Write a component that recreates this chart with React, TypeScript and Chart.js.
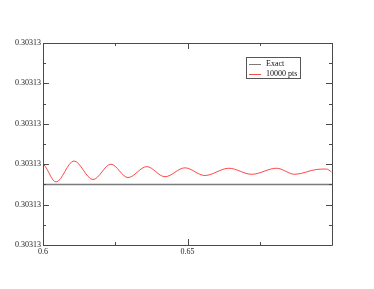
import React, { useEffect, useRef } from "react";
import { Chart, registerables } from "chart.js";

Chart.register(...registerables);

const xRange = [0.6, 0.7];
const xMajorTicks = [0.6, 0.65, 0.7];
const xMinorTicks = [0.625, 0.675];
const xTickLabels = ["0.6", "0.65", ""];
const yRange = [0, 5];
const yMajorTicks = [0, 1, 2, 3, 4, 5];
const yMinorTicks = [0.5, 1.5, 2.5, 3.5, 4.5];
const yTickLabel = "0.30313";

const exactX = [0.6, 0.7];
const exactY = [1.5, 1.5];

const sampleX = [
  0.6, 0.6004, 0.6045, 0.6107, 0.6173, 0.6235, 0.6294, 0.6359, 0.6422, 0.6491,
  0.656, 0.6643, 0.6722, 0.6808, 0.6871, 0.6947, 0.6981, 0.6998,
];
const sampleY = [
  2.0, 1.98, 1.56, 2.08, 1.62, 2.0, 1.67, 1.94, 1.69, 1.91,
  1.72, 1.9, 1.75, 1.9, 1.75, 1.87, 1.88, 1.81,
];

const seriesLabels = ["Exact", "10000 pts"];
const seriesColors = ["#7a7a7a", "rgba(255,40,40,0.85)"];

const FONT = "'Liberation Serif', 'Times New Roman', serif";

const framePlugin = {
  id: "frame",
  afterDraw(chart: any) {
    const ctx = chart.ctx;
    const { left, right, top, bottom } = chart.chartArea;
    const xs = chart.scales.x;
    const ys = chart.scales.y;
    ctx.save();
    ctx.strokeStyle = "#4a4a4a";
    ctx.lineWidth = 1;
    ctx.beginPath();
    ctx.rect(Math.round(left) + 0.5, Math.round(top) + 0.5, Math.round(right - left), Math.round(bottom - top));
    ctx.stroke();
    const tick = (v: number, len: number, axis: "x" | "y") => {
      if (axis === "x") {
        const p = Math.round(xs.getPixelForValue(v)) + 0.5;
        ctx.moveTo(p, bottom);
        ctx.lineTo(p, bottom - len);
        ctx.moveTo(p, top);
        ctx.lineTo(p, top + len);
      } else {
        const p = Math.round(ys.getPixelForValue(v)) + 0.5;
        ctx.moveTo(left, p);
        ctx.lineTo(left + len, p);
        ctx.moveTo(right, p);
        ctx.lineTo(right - len, p);
      }
    };
    ctx.beginPath();
    xMajorTicks.forEach((v) => tick(v, 6, "x"));
    xMinorTicks.forEach((v) => tick(v, 3, "x"));
    yMajorTicks.forEach((v) => tick(v, 6, "y"));
    yMinorTicks.forEach((v) => tick(v, 3, "y"));
    ctx.stroke();

    // legend
    const bx = 246, by = 57, bw = 54, bh = 21;
    ctx.fillStyle = "#fff";
    ctx.fillRect(bx, by, bw, bh);
    ctx.strokeStyle = "#555";
    ctx.strokeRect(bx + 0.5, by + 0.5, bw, bh);
    ctx.font = `8px ${FONT}`;
    ctx.textBaseline = "middle";
    chart.data.datasets.forEach((ds: any, i: number) => {
      const y = by + 6.5 + i * 10;
      ctx.strokeStyle = ds.borderColor;
      ctx.lineWidth = 1;
      ctx.beginPath();
      ctx.moveTo(bx + 3, Math.round(y) + 0.5);
      ctx.lineTo(bx + 15, Math.round(y) + 0.5);
      ctx.stroke();
      ctx.fillStyle = "#111";
      ctx.fillText(ds.label, bx + 20, y);
    });
    ctx.restore();
  },
};

export default function App() {
  const ref = useRef<HTMLCanvasElement>(null);
  useEffect(() => {
    document.body.style.margin = "0";
    const chart = new Chart(ref.current!, {
      type: "line",
      data: {
        datasets: [
          {
            label: seriesLabels[0],
            data: exactX.map((x, i) => ({ x, y: exactY[i] })),
            borderColor: seriesColors[0],
            borderWidth: 1.5,
            pointRadius: 0,
          },
          {
            label: seriesLabels[1],
            data: sampleX.map((x, i) => ({ x, y: sampleY[i] })),
            borderColor: seriesColors[1],
            borderWidth: 1,
            pointRadius: 0,
            cubicInterpolationMode: "monotone",
          },
        ],
      },
      options: {
        responsive: false,
        animation: false,
        devicePixelRatio: 1,
        layout: { padding: { left: 0, top: 43, right: 42, bottom: 0 } },
        plugins: { legend: { display: false }, tooltip: { enabled: false } },
        scales: {
          x: {
            type: "linear",
            min: xRange[0],
            max: xRange[1],
            afterBuildTicks: (s: any) => {
              s.ticks = xMajorTicks.map((v) => ({ value: v }));
            },
            afterFit: (s: any) => {
              s.height = 44;
            },
            grid: { display: false, drawTicks: false },
            border: { display: false },
            ticks: {
              padding: 2,
              maxRotation: 0,
              autoSkip: false,
              color: "#222",
              font: { family: FONT, size: 8 },
              callback: (v: any) => {
                const i = xMajorTicks.findIndex((t) => Math.abs(t - v) < 1e-9);
                return i >= 0 ? xTickLabels[i] : "";
              },
            },
          },
          y: {
            type: "linear",
            min: yRange[0],
            max: yRange[1],
            afterBuildTicks: (s: any) => {
              s.ticks = yMajorTicks.map((v) => ({ value: v }));
            },
            afterFit: (s: any) => {
              s.width = 43;
            },
            grid: { display: false, drawTicks: false },
            border: { display: false },
            ticks: {
              padding: 2,
              autoSkip: false,
              color: "#222",
              font: { family: FONT, size: 8 },
              callback: () => yTickLabel,
            },
          },
        },
      },
      plugins: [framePlugin],
    } as any);
    return () => chart.destroy();
  }, []);
  return (
    <div style={{ width: 374, height: 289 }}>
      <canvas ref={ref} width={374} height={289} style={{ display: "block" }} />
    </div>
  );
}
